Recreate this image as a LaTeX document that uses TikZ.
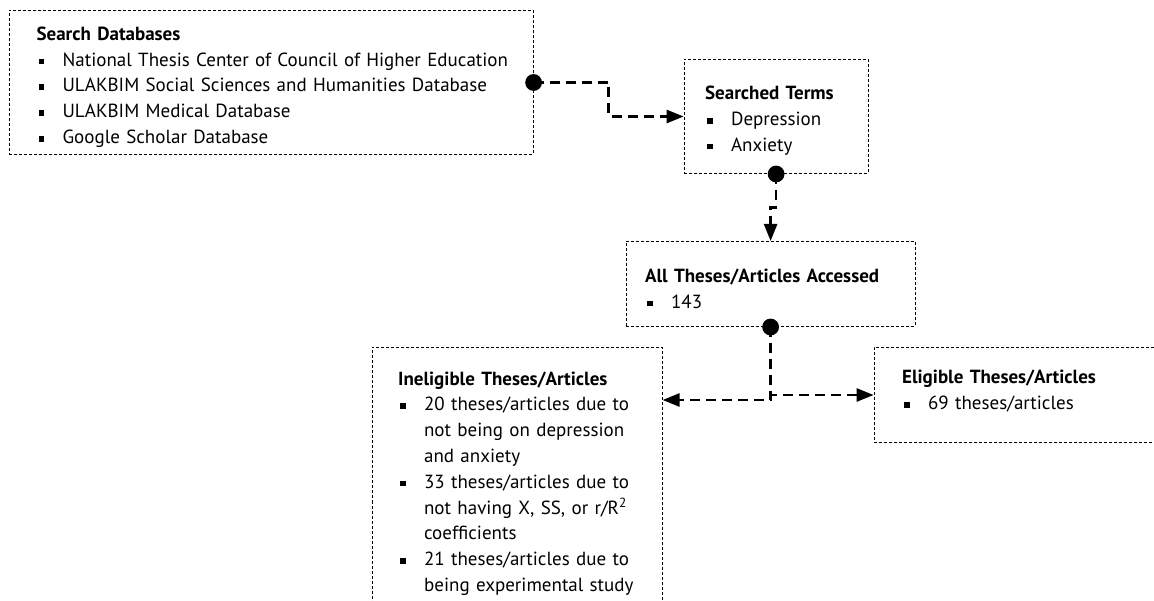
\documentclass[tikz,border=0pt]{standalone}
\usepackage{fontspec}
\setmainfont{PT Sans}
\usetikzlibrary{positioning, calc, arrows.meta}
\tikzstyle{box} = [rectangle, 
draw=black, 
line width=1pt, 
dash pattern=on 3pt off 2pt, 
align=left, 
inner xsep=0pt, 
inner ysep=0pt, 
font=\fontsize{19}{25.8}\selectfont]
\tikzstyle{link} = [line width=2.6pt, dash pattern=on 10pt off 6pt, -{Triangle[length=17pt,width=13pt]}]
% left padding and a top strut that moves the text down
\newcommand{\setpad}[2]{\leftskip=#1\relax\parindent=0pt\relax\rule{0pt}{#2}}
\newcommand{\lowstrut}[1]{\rule[-#1]{0pt}{1pt}}
\newcommand{\bul}{\makebox[26pt][l]{\hspace*{2pt}\rule[2pt]{5.5pt}{5.5pt}}}
\newcommand{\cont}{\hspace*{26pt}}

\begin{document}
\begin{tikzpicture}[x=1pt, y=1pt]
        \useasboundingbox (0,0) rectangle (1154,-601);
        \clip (0,0) rectangle (1154,-601);
        \node (db) [box, minimum height=144pt, text width=524pt, anchor=north west] at (8.6,-10) {\setpad{27.5pt}{23pt}\textbf{Search Databases}\\
            \bul National Thesis Center of Council of Higher Education\\
            \bul ULAKBIM Social Sciences and Humanities Database\\
            \bul ULAKBIM Medical Database\\
            \bul Google Scholar Database\par};
        \node (terms) [box, minimum height=114pt, text width=184pt, below right=49pt and 150pt of db.north east] {\setpad{21pt}{22pt}\textbf{Searched Terms}\\
            \bul Depression\\
            \bul Anxiety\par};
        \node (all) [box, minimum height=85pt, text width=289pt, below=67pt of terms, xshift=-5.5pt] {\setpad{19pt}{22.5pt}\textbf{All Theses/Articles Accessed}\\
            \bul 143\par};
        \node (inelig) [box, minimum height=272pt, text width=290pt, below=20pt of all.south west, anchor=north east, xshift=37pt] {\setpad{26pt}{0pt}\textbf{Ineligible Theses/Articles}\\
            \bul 20 theses/articles due to\\
            \cont not being on depression\\
            \cont and anxiety\\
            \bul 33 theses/articles due to\\
            \cont not having X, SS, or r/R\textsuperscript{2}\\
            \cont coefficients\\
            \bul 21 theses/articles due to\\
            \cont being experimental study\par};
        \node (elig) [box, minimum height=95pt, text width=290pt, below=20pt of all.south east, anchor=north west, xshift=-42pt] {\setpad{28pt}{0pt}\textbf{Eligible Theses/Articles}\\
            \bul 69 theses/articles\lowstrut{10pt}\par};
        \draw [link] (db.east) -| ($(db.east)!0.5!(terms.west)$) |- (terms.west);
        \draw [link] (terms.south) |- ($(terms.south)!0.5!(all.north)$) -| (all.north);
        \draw [link] (all.south) |- (elig.west);
        \draw [link] (all.south) |- ([yshift=-53pt]inelig.north east);
        \fill (db.east) circle (8.4pt);
        \fill (terms.south) circle (8.4pt);
        \fill (all.south) circle (8.4pt);
    \end{tikzpicture}
\end{document}
